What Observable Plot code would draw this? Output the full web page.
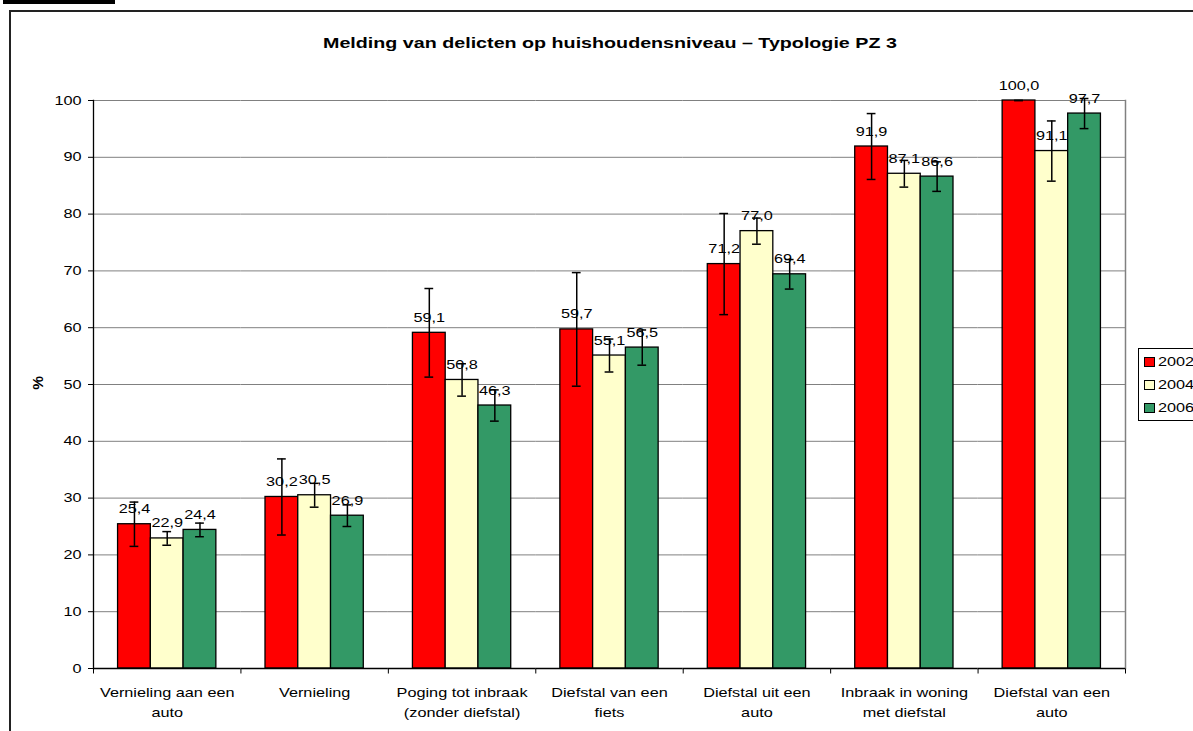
<!DOCTYPE html>
<html>
<head>
<meta charset="utf-8">
<script src="https://cdn.jsdelivr.net/npm/d3@7"></script>
<script src="https://cdn.jsdelivr.net/npm/@observablehq/plot@0.6"></script>
<style>
  html, body { margin: 0; padding: 0; background: #fff; }
  body { width: 1193px; height: 731px; position: relative; overflow: hidden;
         font-family: "Liberation Sans", Arial, sans-serif; color: #000; }
  #frame { position: absolute; left: 9px; top: 10px; width: 1300px; height: 800px;
           border-left: 2px solid #222; border-top: 2px solid #222; }
  #topbar { position: absolute; left: 3px; top: 0; width: 112px; height: 4px; background: #000; }
  #chart { position: absolute; left: 0; top: 0; }
  #title { position: absolute; left: 0; width: 1220px; top: 34px; text-align: center;
           font-weight: bold; font-size: 15.5px; }
  #title span { display: inline-block; transform: scaleX(1.27); transform-origin: center; white-space: nowrap; }
  #ylabel { position: absolute; left: 32px; top: 375px; font-weight: bold; font-size: 14px;
            transform: rotate(-90deg) scaleX(1.1); transform-origin: center; }
  #legend { position: absolute; left: 1138px; top: 348px; width: 80px; height: 71px;
            border: 1px solid #000; background: #fff; font-size: 13px; }
  .li { position: absolute; left: 5px; height: 16px; line-height: 16px; white-space: nowrap; }
  .sw { display: inline-block; width: 9px; height: 8px; border: 1px solid #000;
        vertical-align: -1px; margin-right: 3px; }
  .lt { display: inline-block; transform: scaleX(1.25); transform-origin: left; }
</style>
</head>
<body>
<div id="frame"></div>
<div id="topbar"></div>
<div id="chart"></div>
<div id="title"><span></span></div>
<div id="ylabel">%</div>
<div id="legend"></div>
<script>
const title = "Melding van delicten op huishoudensniveau \u2013 Typologie PZ 3";
const categories = [
  "Vernieling aan een auto",
  "Vernieling",
  "Poging tot inbraak (zonder diefstal)",
  "Diefstal van een fiets",
  "Diefstal uit een auto",
  "Inbraak in woning met diefstal",
  "Diefstal van een auto"
];
const categoryLabels = [
  "Vernieling aan een\nauto",
  "Vernieling",
  "Poging tot inbraak\n(zonder diefstal)",
  "Diefstal van een\nfiets",
  "Diefstal uit een\nauto",
  "Inbraak in woning\nmet diefstal",
  "Diefstal van een\nauto"
];
const years = ["2002", "2004", "2006"];
const colors = ["#FF0000", "#FFFFCC", "#339966"];
const v2002 = [25.4, 30.2, 59.1, 59.7, 71.2, 91.9, 100.0];
const v2004 = [22.9, 30.5, 50.8, 55.1, 77.0, 87.1, 91.1];
const v2006 = [24.4, 26.9, 46.3, 56.5, 69.4, 86.6, 97.7];
const e2002 = [3.9, 6.7, 7.8, 10.0, 8.9, 5.8, 0];
const e2004 = [1.2, 2.1, 2.85, 2.9, 2.3, 2.35, 5.3];
const e2006 = [1.2, 1.9, 2.75, 3.1, 2.6, 2.6, 2.65];
const yTicks = [0, 10, 20, 30, 40, 50, 60, 70, 80, 90, 100];

const values = [v2002, v2004, v2006];
const errors = [e2002, e2004, e2006];
const rows = categories.flatMap((c, i) => years.map((y, j) => ({
  cat: c, year: y, value: values[j][i], err: errors[j][i]
})));
const labelOf = new Map(categories.map((c, i) => [c, categoryLabels[i]]));
const fmt = d => d3.format(".1f")(d).replace(".", ",");
const tickSym = { draw(ctx) { ctx.moveTo(0, 0); ctx.lineTo(0, 5); } };

const chart = Plot.plot({
  width: 1193, height: 731,
  marginLeft: 93, marginRight: 68, marginTop: 100, marginBottom: 63,
  style: { fontFamily: "'Liberation Sans', Arial, sans-serif", fontSize: "13px", color: "#000", background: "transparent", overflow: "visible" },
  fx: { domain: categories, paddingInner: 0, paddingOuter: 0, round: false, axis: null },
  x: { domain: years, paddingInner: 0, paddingOuter: 0.75, round: false, axis: null },
  y: { domain: [0, 100], ticks: yTicks, tickSize: 5, tickPadding: 7, label: null },
  color: { domain: years, range: colors },
  marks: [
    Plot.ruleY(yTicks.filter(t => t > 0), { stroke: "#808080", strokeWidth: 1 }),
    Plot.frame({ anchor: "right", facetAnchor: "right", stroke: "#808080", strokeWidth: 1.5 }),
    Plot.barY(rows, { fx: "cat", x: "year", y: "value", fill: "year", stroke: "#000", strokeWidth: 1.3, inset: 0 }),
    Plot.ruleX(rows, { fx: "cat", x: "year", y1: d => d.value - d.err, y2: d => d.value + d.err, stroke: "#000", strokeWidth: 1.5 }),
    Plot.tickY(rows, { fx: "cat", x: "year", y: d => d.value - d.err, insetLeft: 12, insetRight: 12, stroke: "#000", strokeWidth: 1.5 }),
    Plot.tickY(rows, { fx: "cat", x: "year", y: d => d.value + d.err, insetLeft: 12, insetRight: 12, stroke: "#000", strokeWidth: 1.5 }),
    Plot.text(rows, { fx: "cat", x: "year", y: "value", text: d => fmt(d.value), dy: -11, lineAnchor: "bottom", fontSize: 13, fill: "#000" }),
    Plot.ruleY([0], { stroke: "#000", strokeWidth: 1.3 }),
    Plot.frame({ anchor: "left", facetAnchor: "left", stroke: "#000", strokeWidth: 1.3 }),
    Plot.dot([0], { frameAnchor: "bottom-left", symbol: tickSym, stroke: "#000", strokeWidth: 1 }),
    Plot.dot([0], { frameAnchor: "bottom-right", facetAnchor: "right", symbol: tickSym, stroke: "#000", strokeWidth: 1 }),
    Plot.text(categories, { fx: d => d, text: d => labelOf.get(d), frameAnchor: "bottom", dy: 15, lineAnchor: "top", lineHeight: 1.5, fontSize: 13, fill: "#000" })
  ]
});

// the reference's lettering is horizontally stretched; widen every text around its anchor
const SX = 1.25;
chart.querySelectorAll("text").forEach(t => {
  const tr = t.getAttribute("transform") || "";
  const x = +t.getAttribute("x") || 0, y = +t.getAttribute("y") || 0;
  t.setAttribute("transform", `${tr} translate(${x},${y}) scale(${SX},1) translate(${-x},${-y})`);
});

document.getElementById("chart").appendChild(chart);
document.querySelector("#title span").textContent = title;

const legend = document.getElementById("legend");
years.forEach((y, j) => {
  const el = document.createElement("div");
  el.className = "li";
  el.style.top = (5 + j * 23) + "px";
  el.innerHTML = `<span class="sw" style="background:${colors[j]}"></span><span class="lt">${y}</span>`;
  legend.appendChild(el);
});
</script>
</body>
</html>
